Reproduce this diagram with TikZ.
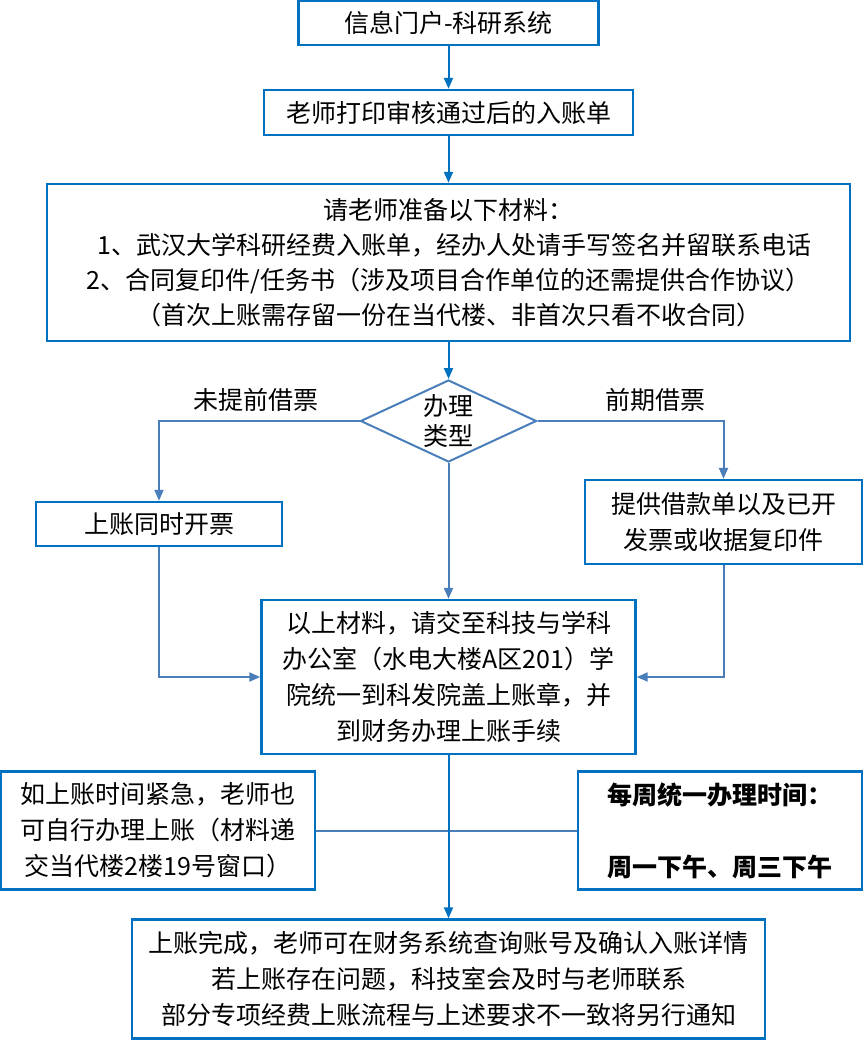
\documentclass[tikz,border=0pt]{standalone}
\usepackage{fontspec}
\setmainfont{Noto Sans CJK SC}
\usetikzlibrary{shapes.geometric,arrows.meta}
\definecolor{boxblue}{HTML}{0070C0}
\definecolor{linkblue}{HTML}{4A7EBB}
\begin{document}
\begin{tikzpicture}[x=1pt,y=-1pt,
  box/.style={draw=boxblue, line width=2.4pt, inner sep=0pt, align=center,
    font=\fontsize{25}{35}\selectfont},
  lbl/.style={inner sep=0pt, font=\fontsize{25}{30}\selectfont},
  mainarr/.style={draw=boxblue, line width=2pt, -{Triangle[length=11pt,width=9pt]}},
  linkarr/.style={draw=linkblue, line width=2pt, -{Triangle[length=11pt,width=9pt]}},
  linkline/.style={draw=linkblue, line width=2pt}]
\useasboundingbox (0,0) rectangle (864,1041);

\node[box, minimum width=300pt, minimum height=44pt] (b1) at (448.5,23) {信息门户-科研系统};
\node[box, minimum width=369pt, minimum height=45pt] (b2) at (448.5,112.5) {老师打印审核通过后的入账单};
\node[box, minimum width=803pt, minimum height=157pt] (b3) at (448.5,262.5)
  {请老师准备以下材料：\\
   \ \ 1、武汉大学科研经费入账单，经办人处请手写签名并留联系电话\\
   2、合同复印件/任务书（涉及项目合作单位的还需提供合作协议）\\
   （首次上账需存留一份在当代楼、非首次只看不收合同）};

\node[diamond, draw=linkblue, line width=2pt, aspect=2.15, inner sep=0pt,
  minimum width=176pt, minimum height=82pt, align=center,
  font=\fontsize{25}{30}\selectfont] (dia) at (448.5,421) {办理\\类型};

\node[lbl] (l1) at (256,400) {未提前借票};
\node[lbl] (l2) at (655,400) {前期借票};

\node[box, minimum width=246pt, minimum height=44pt] (bl) at (159,524) {上账同时开票};
\node[box, minimum width=277pt, minimum height=84pt, font=\fontsize{25}{36}\selectfont] (br) at (723.5,522)
  {提供借款单以及已开\\发票或收据复印件};

\node[box, minimum width=374pt, minimum height=154pt, font=\fontsize{25}{36}\selectfont] (c) at (448.5,677)
  {以上材料，请交至科技与学科\\办公室（水电大楼A区201）学\\院统一到科发院盖上账章，并\\到财务办理上账手续};

\node[box, minimum width=314pt, minimum height=118pt, font=\fontsize{25}{36}\selectfont] (ll) at (158,830.5)
  {如上账时间紧急，老师也\\可自行办理上账（材料递\\交当代楼2楼19号窗口）};
\node[box, minimum width=284pt, minimum height=118pt, font=\fontsize{25}{36}\selectfont\bfseries] (rr) at (720,830.5)
  {每周统一办理时间：\\[36pt]周一下午、周三下午};

\node[box, minimum width=633pt, minimum height=119pt, font=\fontsize{25}{36}\selectfont] (fin) at (448.5,979)
  {上账完成，老师可在财务系统查询账号及确认入账详情\\若上账存在问题，科技室会及时与老师联系\\部分专项经费上账流程与上述要求不一致将另行通知};

\draw[mainarr] (b1) -- (b2);
\draw[mainarr] (b2) -- (b3);
\draw[mainarr] (b3) -- (dia);
\draw[linkarr] (dia.west) -| (bl.north);
\draw[linkarr] (dia.east) -| (br.north);
\draw[linkarr] (dia.south) -- (c.north);
\draw[linkarr] (bl.south) |- (c.west);
\draw[linkarr] (br.south) |- (c.east);
\draw[linkline] (ll.east) -- (rr.west);
\draw[mainarr] (c) -- (fin);
\end{tikzpicture}
\end{document}
